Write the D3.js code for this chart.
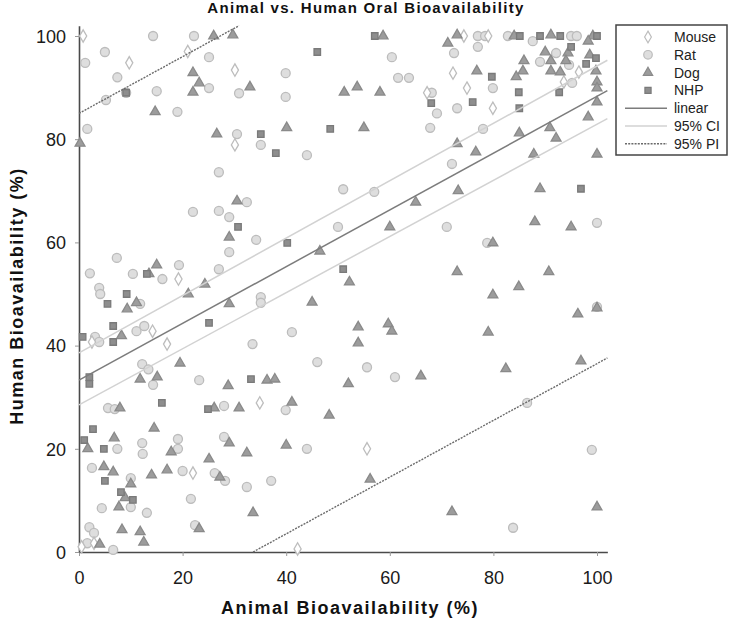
<!DOCTYPE html>
<html>
<head>
<meta charset="utf-8">
<script src="https://cdn.jsdelivr.net/npm/d3@7"></script>
<style>
html,body{margin:0;padding:0;background:#fff;}
svg{display:block;font-family:"Liberation Sans",Arial,sans-serif;}
</style>
</head>
<body>
<svg id="chart" width="729" height="622"></svg>
<script>
// ---- data (animal %, human %) ----
const mouse = [[0.8,100],[9.7,94.8],[21,97],[30.1,93.4],[30.1,78.9],[74.3,100],[79,100],[96.5,93],[72.2,92.8],[93.6,91.1],[74.9,89.9],[67.2,89],[79.9,86],[19.2,52.9],[14.2,42.8],[2.5,40.7],[17,40.3],[34.9,28.9],[22,15.3],[55.6,20],[42.2,0.6],[0.5,1],[2.9,1.7]];
const rat = [[1.2,94.8],[5,96.9],[7.4,92],[9.1,89],[5.2,87.6],[1.6,82],[14.3,100],[15,89.3],[19,85.3],[22.2,100],[25.1,95.9],[25.1,89.9],[30.9,88.9],[30.5,81],[35.1,78.9],[27,73.6],[39.9,92.8],[39.9,88.2],[44,76.9],[60.4,95.9],[61.6,91.9],[63.7,91.9],[77,100],[78.4,100],[77,97.9],[72.4,96.7],[82.8,100],[87.6,99],[95,100],[96.1,100],[92.1,96.7],[89,95],[94.6,94.4],[95.2,90.9],[79.9,89.9],[68.1,89],[69.1,85],[73,86],[67.8,82.2],[78,82],[72,75.2],
[51,70.3],[32.4,67.8],[22,65.9],[27,66.1],[29,64.9],[34.2,60.5],[50,63],[29,58.1],[7.3,57],[2.1,54],[19.3,55.6],[27,54.8],[10.4,53.9],[16.1,52.9],[3.9,51.2],[4.1,50],[35.1,49.4],[35.1,48.3],[11.8,48.1],[12.6,43.8],[11.1,42.8],[41.1,42.6],[3.1,41.7],[3.9,40.7],[33.5,40.3],
[57,69.8],[71,63],[100,63.8],[78.8,59.9],[99,19.8],[86.5,28.9],[83.8,4.7],[55.6,35.8],[61,33.9],[100,47.5],
[12.2,36.4],[13.4,35.4],[14.3,32.4],[23.2,33.3],[46,36.8],[5.6,27.9],[6.9,27.7],[28,28.3],[39.9,27.5],[12.2,21.1],[19.1,21.9],[28,22.3],[7.4,20],[12.3,19],[19.1,20],[44,20],[2.5,16.3],[20,15.7],[26.2,15.3],[28.2,13.8],[37.1,13.8],[32.4,12.6],[10,14.3],[21.6,10.3],[4.4,8.5],[10,8.7],[13.1,7.6],[2,4.8],[2.9,3.7],[22.4,5.2],[1.6,1.7],[6.6,0.4]];
const dog = [[0.2,79.2],[14.7,85.3],[26,100],[29.7,100.2],[22,92.9],[23.2,90.9],[22,89.1],[33,90.1],[26.6,81],[40.1,82.2],[51.2,89.1],[53.7,90.1],[58.7,100],[58.1,89.1],[55,82.2],[73,100.2],[71.2,98.6],[84,100],[91.1,100.2],[99.2,100],[98.3,99],[90,96.9],[94.4,96.7],[85.9,95.2],[91.1,95.2],[94,95.2],[98.6,96.3],[85.7,93.2],[91.1,93.2],[92.9,93],[99.8,93.2],[84.4,92.1],[76.8,93.2],[100,91.1],[100,89.9],[100,87.2],[98.3,84.3],[90.9,82.2],[85,81.2],[92.1,80.2],[73,79.1],[76.6,77.5],[87.8,77.1],[100,77.1],
[30.5,68],[29,61],[46.5,58.3],[15,55.6],[13.5,53.9],[52.2,52.3],[24.3,51.9],[21.1,50],[29,48.1],[45,48.4],[11.1,48.3],[9.3,47.1],[53.9,43.6],[8.2,41.9],[53.9,40.5],
[65,67.8],[73.2,70],[89,70.4],[60,63],[88,64],[95,63],[79.9,59.9],[73,54.3],[90.7,54.3],[84.9,51.4],[79.9,49.8],[96.3,46.1],[100,47.3],[59.7,44.2],[60.4,42.8],[79,42.6],[96.9,37],[100,8.7],
[19.5,36.6],[11.8,33.5],[15.1,33.9],[28.8,32.2],[36.3,33.3],[37.8,33.5],[52,32.6],[7.9,27.9],[26.1,27.9],[30.9,27.9],[41.1,29],[48.3,26.5],[6.8,22.1],[14.5,24],[29,21.1],[40,20.7],[1.7,20],[17.8,19.4],[25.1,18],[32.4,19.2],[4.8,16.5],[6.6,15.5],[14,14.9],[17,15.9],[27.2,14.5],[10,13.2],[8.9,10.5],[7.7,8.7],[33.6,7.6],[8.3,4.3],[11.8,3.9],[23.2,4.5],[12.5,1.9],[4,1.5],[66,34.1],[82.4,35.5],[56.2,14.1],[72,7.8]];
const nhp = [[9.1,89],[35.1,81],[38,77.3],[46,96.9],[48.5,82],[57.1,100],[85.1,100],[89,100],[92.9,100],[100,100],[95,97.9],[99.8,95.7],[97.9,94.6],[79.7,92.1],[84.9,89.1],[92.7,89.1],[68,87],[76,87.2],[85,86],
[30.7,63],[40.2,59.9],[13.1,53.9],[51,54.8],[9.2,50],[5.5,48.1],[25.1,44.4],[6.6,43.8],[0.7,41.7],[6.6,40.7],[96.9,70.4],
[2,33.9],[2,32.6],[33.2,33.5],[16,28.9],[24.9,27.7],[2.7,23.8],[1,21.7],[4.8,20],[5,13.8],[8.1,11.6],[10.4,10.1]];

// regression fit and bands (end points)
const linearFit = [[0,33.3],[102,89.4]];
const ciUpper = [[0,38.6],[102,95.3]];
const ciLower = [[0,28.5],[102,84.0]];
const piUpper = [[0,85.0],[30.9,102]];
const piLower = [[33.6,0],[102,37.6]];

const xTicks = [0,20,40,60,80,100];
const yTicks = [0,20,40,60,80,100];
const legendLabels = ["Mouse","Rat","Dog","NHP","linear","95% CI","95% PI"];

// ---- drawing ----
const svg = d3.select("#chart");
const x = d3.scaleLinear().domain([0,102]).range([79, 79 + 5.18*102]);
const y = d3.scaleLinear().domain([0,102]).range([552, 552 - 5.16*102]);

const styles = {
  Mouse: {sym: d3.symbolDiamond, size: 44, fill: "#ffffff", stroke: "#bdbdbd"},
  Rat:   {sym: d3.symbolCircle,  size: 64, fill: "#dedede", stroke: "#bcbcbc"},
  Dog:   {sym: d3.symbolTriangle,size: 42, fill: "#9c9c9c", stroke: "#8a8a8a"},
  NHP:   {sym: d3.symbolSquare,  size: 42, fill: "#8e8e8e", stroke: "#7a7a7a"}
};
const lineStyles = {
  linear: {stroke:"#7c7c7c", width:1.5, dash:null},
  "95% CI": {stroke:"#d2d2d2", width:1.5, dash:null},
  "95% PI": {stroke:"#6a6a6a", width:1.4, dash:"2,1.2"}
};

// axes
const xAxis = d3.axisBottom(x).tickValues(xTicks).tickSize(4).tickSizeOuter(0);
const yAxis = d3.axisLeft(y).tickValues(yTicks).tickSize(4).tickSizeOuter(0);
const gx = svg.append("g").attr("transform","translate(0,552)").call(xAxis);
const gy = svg.append("g").attr("transform","translate(79,0)").call(yAxis);
[gx,gy].forEach(g=>{
  g.select(".domain").attr("stroke","#4a4a4a").attr("stroke-width",1.6);
  g.selectAll(".tick line").attr("stroke","#999");
  g.selectAll(".tick text").attr("fill","#1a1a1a").style("font-size","18px")
    .style("font-family","'Liberation Sans',Arial,sans-serif");
});
gx.selectAll(".tick text").attr("dy","0").attr("y",32);
gy.selectAll(".tick text").attr("x",-13).attr("dy","0.35em");

// points
const groups = [["Rat",rat],["Mouse",mouse],["Dog",dog],["NHP",nhp]];
groups.forEach(([name,data])=>{
  const st = styles[name];
  svg.append("g").selectAll("path").data(data).join("path")
    .attr("d", d3.symbol().type(st.sym).size(st.size))
    .attr("transform", d=>`translate(${x(d[0])},${y(d[1])})`)
    .attr("fill", st.fill).attr("stroke", st.stroke).attr("stroke-width",1.3);
});

// lines
const lineGen = d3.line().x(d=>x(d[0])).y(d=>y(d[1]));
function drawLine(data, st){
  svg.append("path").datum(data).attr("d", lineGen)
    .attr("fill","none").attr("stroke", st.stroke).attr("stroke-width", st.width)
    .attr("stroke-dasharray", st.dash);
}
drawLine(ciUpper, lineStyles["95% CI"]);
drawLine(ciLower, lineStyles["95% CI"]);
drawLine(linearFit, lineStyles.linear);
drawLine(piUpper, lineStyles["95% PI"]);
drawLine(piLower, lineStyles["95% PI"]);

// titles
svg.append("text").attr("x",366).attr("y",13).attr("text-anchor","middle")
  .style("font-size","15px").style("font-weight","bold").style("letter-spacing","1.3px")
  .attr("fill","#111").text("Animal vs. Human Oral Bioavailability");
svg.append("text").attr("x",350).attr("y",614).attr("text-anchor","middle")
  .style("font-size","18px").style("font-weight","bold").style("letter-spacing","1.5px")
  .attr("fill","#111").text("Animal Bioavailability (%)");
svg.append("text").attr("transform","translate(23,296) rotate(-90)").attr("text-anchor","middle")
  .style("font-size","18px").style("font-weight","bold").style("letter-spacing","1.5px")
  .attr("fill","#111").text("Human Bioavailability (%)");

// legend
const lg = svg.append("g");
lg.append("rect").attr("x",616).attr("y",25).attr("width",111).attr("height",130)
  .attr("fill","#fff").attr("stroke","#444").attr("stroke-width",1.5);
const rowY = i => 37 + i*17.8;
legendLabels.forEach((lab,i)=>{
  const cy = rowY(i);
  if (styles[lab]) {
    const st = styles[lab];
    lg.append("path").attr("d", d3.symbol().type(st.sym).size(st.size*0.9)())
      .attr("transform",`translate(648,${cy})`)
      .attr("fill",st.fill).attr("stroke",st.stroke).attr("stroke-width",1.2);
  } else {
    const st = lineStyles[lab];
    lg.append("line").attr("x1",625).attr("x2",667).attr("y1",cy).attr("y2",cy)
      .attr("stroke",st.stroke).attr("stroke-width",st.width).attr("stroke-dasharray",st.dash);
  }
  lg.append("text").attr("x",674).attr("y",cy).attr("dy","0.36em")
    .style("font-size","14px").attr("fill","#222").text(lab);
});
</script>
</body>
</html>
